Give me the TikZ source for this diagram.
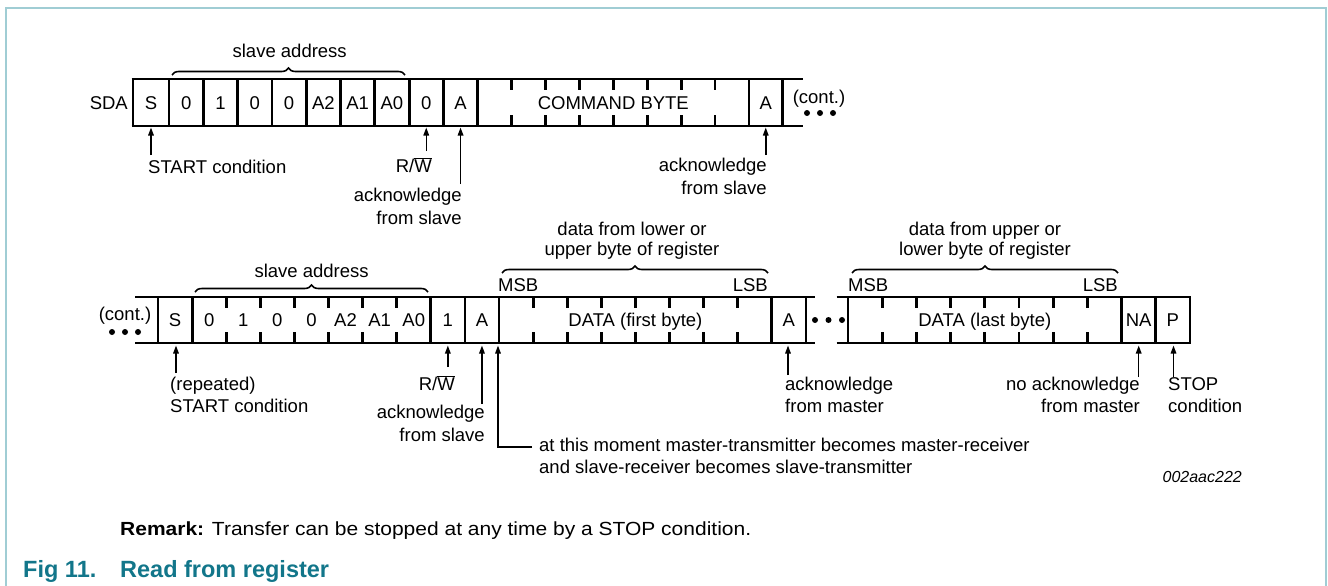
\documentclass[tikz,border=0pt]{standalone}
\usepackage{fontspec}
\setmainfont{Liberation Sans}
\usetikzlibrary{arrows.meta,decorations.pathreplacing}
\definecolor{frameteal}{RGB}{160,205,212}
\definecolor{capteal}{RGB}{18,118,138}
\begin{document}
\begin{tikzpicture}[x=1pt,y=-1pt,
  bx/.style={line width=2.8pt},
  t/.style={font=\fontsize{18.5}{22}\selectfont, inner sep=0pt, anchor=base},
  tl/.style={t, anchor=base west},
  tr/.style={t, anchor=base east},
  arr/.style={line width=1.5pt, -{Triangle[length=8pt,width=5.5pt]}},
  brc/.style={decorate, decoration={brace, amplitude=7pt}, line width=1.6pt},
  dotc/.style={circle, fill, inner sep=0pt, minimum size=6pt},
]
\useasboundingbox (0,0) rectangle (1328,586);
\draw[frameteal, line width=1.5pt] (6,586) -- (6,8) -- (1326,8) -- (1326,586);

% ---------------- top row ----------------
\draw[bx] (131.6,79) -- (803,79);
\draw[bx] (131.6,126) -- (803,126);
\foreach \x in {133,169,203.3,237.6,271.9,306.2,340.5,374.8,409.1,443.4,477.7,748.9,782.6}
  \draw[bx] (\x,79) -- (\x,126);
\foreach \x in {511.6,545.5,579.4,613.3,647.2,681.1,715.0}{
  \draw[bx] (\x,79) -- (\x,90);
  \draw[bx] (\x,115) -- (\x,126);
}
\node[tr] (sda) at (128,109) {SDA};
\node[t] (c1) at (151,109) {S};
\node[t] (c2) at (186.15,109) {0};
\node[t] (c3) at (220.45,109) {1};
\node[t] (c4) at (254.75,109) {0};
\node[t] (c5) at (289.05,109) {0};
\node[t] (c6) at (323.35,109) {A2};
\node[t] (c7) at (357.65,109) {A1};
\node[t] (c8) at (391.95,109) {A0};
\node[t] (c9) at (426.25,109) {0};
\node[t] (c10) at (460.55,109) {A};
\node[t] (cmd) at (613.3,109) {COMMAND BYTE};
\node[t] (c11) at (765.75,109) {A};
\node[t] (cont1) at (819,103) {(cont.)};
\node[dotc] (d1) at (807,113) {};
\node[dotc] (d2) at (820,113) {};
\node[dotc] (d3) at (833,113) {};

\draw[brc] (172,75) -- (405,75);
\node[t] (sa1) at (289.7,58) {slave address};

\node[tl] (startlbl) at (148,173) {START condition};
\node[tr] (rw1) at (432,172) {R/\ensuremath{\overline{\hbox{W}}}};
\node[tr] (ack1a) at (462,201.5) {acknowledge};
\node[tr] (ack1b) at (462,224.5) {from slave};
\node[tr] (ack2a) at (767,171.5) {acknowledge};
\node[tr] (ack2b) at (767,194.5) {from slave};

\coordinate (a1t) at (151,155);   \coordinate (a1h) at (151,127.5);
\coordinate (a2t) at (426.25,151); \coordinate (a2h) at (426.25,127.5);
\coordinate (a3t) at (460.55,184); \coordinate (a3h) at (460.55,127.5);
\coordinate (a4t) at (765.75,155); \coordinate (a4h) at (765.75,127.5);
\draw[arr] (a1t) -- (a1h);
\draw[arr] (a2t) -- (a2h);
\draw[arr] (a3t) -- (a3h);
\draw[arr] (a4t) -- (a4h);

% ---------------- bottom row ----------------
\draw[bx] (135,297) -- (815,297);
\draw[bx] (135,343) -- (815,343);
\draw[bx] (836.6,297) -- (1191.4,297);
\draw[bx] (836.6,343) -- (1191.4,343);
\foreach \x in {158,192.1,430.8,464.9,499,771.8,805.9,848,1121.6,1155.8,1190}
  \draw[bx] (\x,297) -- (\x,343);
\foreach \x in {226.2,260.3,294.4,328.5,362.6,396.7,533.1,567.2,601.3,635.4,669.5,703.6,737.7,882.2,916.4,950.6,984.8,1019,1053.2,1087.4}{
  \draw[bx] (\x,297) -- (\x,308);
  \draw[bx] (\x,332) -- (\x,343);
}
\node[t] (cont2) at (125,320) {(cont.)};
\node[dotc] (e1) at (112,332) {};
\node[dotc] (e2) at (125,332) {};
\node[dotc] (e3) at (138,332) {};
\node[dotc] (f1) at (815,320) {};
\node[dotc] (f2) at (828.5,320) {};
\node[dotc] (f3) at (842,320) {};

\node[t] (b1) at (175.05,326.5) {S};
\node[t] (b2) at (209.15,326.5) {0};
\node[t] (b3) at (243.25,326.5) {1};
\node[t] (b4) at (277.35,326.5) {0};
\node[t] (b5) at (311.45,326.5) {0};
\node[t] (b6) at (345.55,326.5) {A2};
\node[t] (b7) at (379.65,326.5) {A1};
\node[t] (b8) at (413.75,326.5) {A0};
\node[t] (b9) at (447.85,326.5) {1};
\node[t] (b10) at (481.95,326.5) {A};
\node[t] (data1) at (635.4,326.5) {DATA (first byte)};
\node[t] (b11) at (788.85,326.5) {A};
\node[t] (data2) at (984.8,326.5) {DATA (last byte)};
\node[t] (b12) at (1138.7,326.5) {NA};
\node[t] (b13) at (1172.9,326.5) {P};

\draw[brc] (195,292) -- (428,292);
\node[t] (sa2) at (311.6,277) {slave address};
\draw[brc] (502,273) -- (768,273);
\node[t] (dl1a) at (632,235.5) {data from lower or};
\node[t] (dl1b) at (632,255) {upper byte of register};
\draw[brc] (852,273) -- (1118,273);
\node[t] (dl2a) at (985,235.5) {data from upper or};
\node[t] (dl2b) at (985,255) {lower byte of register};
\node[tl] (msb1) at (498,291) {MSB};
\node[tr] (lsb1) at (768,291) {LSB};
\node[tl] (msb2) at (848,291) {MSB};
\node[tr] (lsb2) at (1118,291) {LSB};

\node[tl] (rs1) at (170,390) {(repeated)};
\node[tl] (rs2) at (170,412.5) {START condition};
\node[tr] (rw2) at (455,390) {R/\ensuremath{\overline{\hbox{W}}}};
\node[tr] (ack3a) at (485,418) {acknowledge};
\node[tr] (ack3b) at (485,441.5) {from slave};
\node[tl] (mom1) at (539,451) {at this moment master-transmitter becomes master-receiver};
\node[tl] (mom2) at (539,473.5) {and slave-receiver becomes slave-transmitter};
\node[tl] (ack4a) at (785,390) {acknowledge};
\node[tl] (ack4b) at (785,412.5) {from master};
\node[tr] (nack1) at (1140,390) {no acknowledge};
\node[tr] (nack2) at (1140,412.5) {from master};
\node[tl] (stop1) at (1168,390) {STOP};
\node[tl] (stop2) at (1168,412.5) {condition};

\coordinate (b1t) at (176,373);     \coordinate (b1h) at (176,345.5);
\coordinate (b2t) at (447.85,367);  \coordinate (b2h) at (447.85,345.5);
\coordinate (b3t) at (481.95,404);  \coordinate (b3h) at (481.95,345.5);
\coordinate (b4t) at (532,447);     \coordinate (b4c) at (498,447); \coordinate (b4h) at (498,345.5);
\coordinate (b5t) at (788,375);     \coordinate (b5h) at (788,345.5);
\coordinate (b6t) at (1138.7,377);  \coordinate (b6h) at (1138.7,345.5);
\coordinate (b7t) at (1173.5,377);  \coordinate (b7h) at (1173.5,345.5);
\draw[arr] (b1t) -- (b1h);
\draw[arr] (b2t) -- (b2h);
\draw[arr] (b3t) -- (b3h);
\draw[arr] (b4t) -- (b4c) -- (b4h);
\draw[arr] (b5t) -- (b5h);
\draw[arr] (b6t) -- (b6h);
\draw[arr] (b7t) -- (b7h);

\node[anchor=base east, inner sep=0pt, font=\fontsize{16}{19}\selectfont\itshape] (code) at (1242,482) {002aac222};

\node[anchor=base west, inner sep=0pt, font=\fontsize{19}{22}\selectfont] (remark) at (120,535)
  {\scalebox{1.105}[1]{\textbf{Remark:} Transfer can be stopped at any time by a STOP condition.}};
\node[anchor=base west, inner sep=0pt, text=capteal, font=\fontsize{23.5}{26}\selectfont\bfseries] (fig) at (23,577) {Fig 11.};
\node[anchor=base west, inner sep=0pt, text=capteal, font=\fontsize{23.5}{26}\selectfont\bfseries] (title) at (120,577) {Read from register};
\end{tikzpicture}
\end{document}
